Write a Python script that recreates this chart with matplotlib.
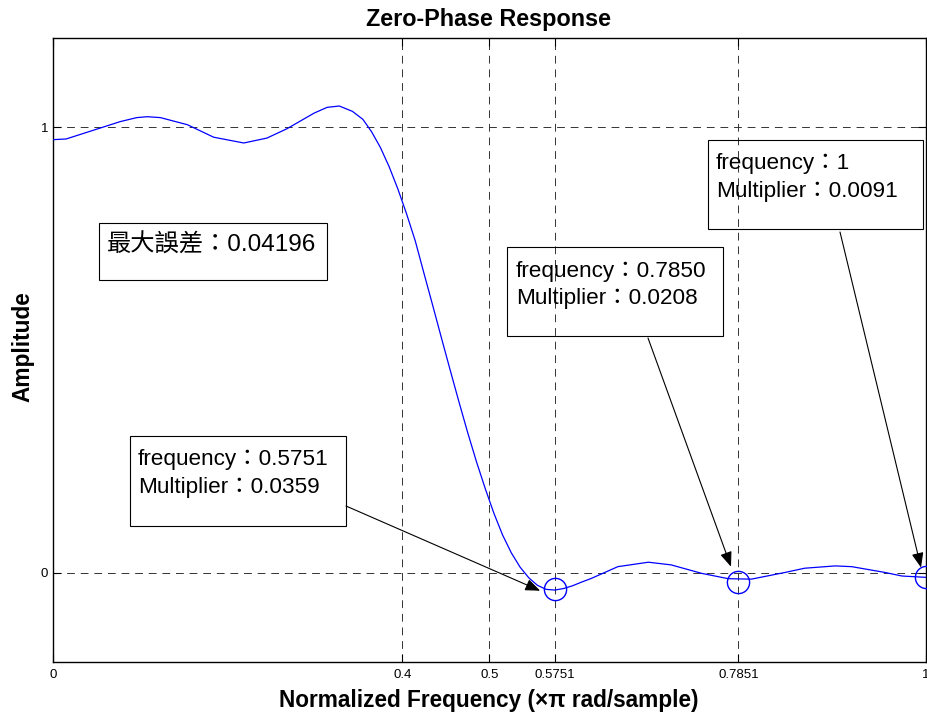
import matplotlib
matplotlib.use("Agg")
import matplotlib.pyplot as plt
from matplotlib.patches import Rectangle

# Zero-phase amplitude response of the designed filter
freq = [0.000, 0.015, 0.054, 0.077, 0.096, 0.108, 0.123, 0.154, 0.184, 0.2185,
        0.245, 0.268, 0.299, 0.314, 0.328, 0.343, 0.355, 0.365, 0.375, 0.385,
        0.395, 0.405, 0.415, 0.425, 0.435, 0.445, 0.455, 0.465, 0.475, 0.485,
        0.495, 0.505, 0.515, 0.525, 0.535, 0.545, 0.555, 0.565, 0.575, 0.585,
        0.595, 0.605, 0.6165, 0.647, 0.682, 0.708, 0.743, 0.7735, 0.800,
        0.8385, 0.861, 0.896, 0.915, 0.953, 0.9725, 1.000]
amp = [0.9725, 0.974, 0.9985, 1.013, 1.022, 1.024, 1.022, 1.006, 0.978, 0.965,
       0.976, 0.997, 1.032, 1.045, 1.048, 1.036, 1.018, 0.990, 0.955, 0.912,
       0.862, 0.806, 0.745, 0.672, 0.600, 0.527, 0.455, 0.384, 0.315, 0.250,
       0.190, 0.134, 0.085, 0.045, 0.013, -0.011, -0.028, -0.037, -0.0385,
       -0.035, -0.029, -0.021, -0.0125, 0.014, 0.024, 0.018, -0.001, -0.013,
       -0.014, 0.001, 0.0105, 0.0157, 0.014, 0.001, -0.007, -0.010]

# Stopband extremal points
ext_freq = [0.5751, 0.7850, 1.0]
ext_mult = [0.0359, 0.0208, 0.0091]
ext_freq_text = ["0.5751", "0.7850", "1"]
ext_mult_text = ["0.0359", "0.0208", "0.0091"]

x_ticks = [0, 0.4, 0.5, 0.5751, 0.7851, 1]
x_tick_labels = ["0", "0.4", "0.5", "0.5751", "0.7851", "1"]
y_ticks = [0, 1]
y_tick_labels = ["0", "1"]

max_error_text = "最大誤差：0.04196"

W, H = 928, 715
LATIN = "Liberation Sans"
MIXED = ["Liberation Sans", "Noto Sans CJK TC", "DejaVu Sans"]


def fx(px):
    return px / W


def fy(py):
    return 1 - py / H


fig = plt.figure(figsize=(W / 100, H / 100), dpi=100)
ax = fig.add_axes([fx(53), fy(662), 873 / W, (662 - 38.3) / H])

ax.plot(freq, amp, color=(0, 0, 1), lw=0.9, zorder=3)
ax.plot(ext_freq, [-m for m in ext_mult], linestyle="none", marker="o",
        markersize=16, markerfacecolor="none", markeredgecolor=(0, 0, 1),
        markeredgewidth=1.0, zorder=4)

ax.set_xlim(0, 1)
ax.set_ylim(-0.2, 1.2)
ax.set_xticks(x_ticks)
ax.set_xticklabels(x_tick_labels, fontfamily=LATIN, fontsize=9.5)
ax.set_yticks(y_ticks)
ax.set_yticklabels(y_tick_labels, fontfamily=LATIN, fontsize=9.5)
ax.tick_params(axis="both", direction="in", length=6, width=0.8,
               top=True, right=True)
ax.tick_params(axis="x", pad=5)
ax.tick_params(axis="y", pad=3.5)
ax.grid(True, color="0.2", lw=0.7, linestyle=(0, (8, 6)))
for s in ax.spines.values():
    s.set_linewidth(1.0)
    s.set_color("black")

fig.text(fx(489), fy(26), "Zero-Phase Response", ha="center", va="baseline",
         fontfamily=LATIN, fontweight="bold", fontsize=16.8)
fig.text(fx(489), fy(706.5), "Normalized Frequency (\u00d7\u03c0 rad/sample)",
         ha="center", va="baseline", fontfamily=["Liberation Sans", "DejaVu Sans"],
         fontweight="bold", fontsize=16.3)
fig.text(fx(22.5), fy(347), "Amplitude", rotation=90, ha="center", va="center",
         fontfamily=LATIN, fontweight="bold", fontsize=16.3)


def box(x0, y0, x1, y1):
    fig.patches.append(Rectangle((fx(x0), fy(y1)), (x1 - x0) / W, (y1 - y0) / H,
                                 transform=fig.transFigure, fill=False,
                                 edgecolor="black", lw=0.8, zorder=5))


# Maximum error box
box(99, 223, 327, 280)
fig.text(fx(107), fy(251.7), max_error_text, ha="left", va="baseline",
         fontfamily=MIXED, fontsize=17.5)

# Extremal point boxes: (box rect, text left, first baseline, arrow tail px)
boxes = [((130, 436, 346, 526), 138, 465.0, (346, 506)),
         ((507, 247, 723, 336), 516, 276.7, (648, 338)),
         ((708, 140, 923, 229), 716, 169.3, (840, 232))]
tips = [(0.558, -0.040), (0.7766, 0.014), (0.9943, 0.012)]

for (rect, tx, base, tail), tip, ft, mt in zip(boxes, tips, ext_freq_text,
                                                ext_mult_text):
    box(*rect)
    fig.text(fx(tx), fy(base), "frequency：" + ft, ha="left", va="baseline",
             fontfamily=MIXED, fontsize=16.2)
    fig.text(fx(tx), fy(base + 27.5), "Multiplier：" + mt, ha="left",
             va="baseline", fontfamily=MIXED, fontsize=16.2)
    ax.annotate("", xy=tip, xycoords="data",
                xytext=(fx(tail[0]), fy(tail[1])), textcoords="figure fraction",
                arrowprops=dict(arrowstyle="-|>,head_length=0.75,head_width=0.3",
                                mutation_scale=12, color="black", lw=0.8,
                                shrinkA=0, shrinkB=0),
                annotation_clip=False, zorder=6)

fig.savefig("out.png", dpi=100)
